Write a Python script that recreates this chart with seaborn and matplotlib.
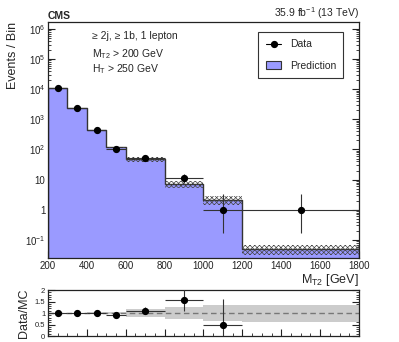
import numpy as np
import pandas as pd
import matplotlib
matplotlib.use("Agg")
import matplotlib.pyplot as plt
import seaborn as sns
from matplotlib.ticker import FixedLocator, FixedFormatter, MultipleLocator, LogLocator, NullFormatter
from matplotlib.lines import Line2D
from matplotlib.patches import Patch

# MT2 bins (GeV)
bin_edges = [200, 300, 400, 500, 600, 800, 1000, 1200, 1800]
bin_centers = [250, 350, 450, 550, 700, 900, 1100, 1500]

# prediction per bin and its relative uncertainty
prediction = [10700, 2350, 445, 117, 47, 7.1, 2.15, 0.05]
pred_rel_unc = [0.02, 0.02, 0.03, 0.05, 0.18, 0.27, 0.33, 0.37]

# observed data with asymmetric errors
data = [11000, 2400, 440, 105, 52, 11, 1, 1]
data_err_lo = [105, 49, 21, 10.2, 7.2, 3.3, 0.83, 0.83]
data_err_hi = [105, 49, 21, 11.3, 8.2, 4.4, 2.3, 2.3]

# data / MC ratio (last bin is off scale, not drawn)
ratio_x = [250, 350, 450, 550, 700, 900, 1100]
ratio = [1.02, 1.02, 0.99, 0.90, 1.10, 1.55, 0.46]
ratio_err_lo = [0.02, 0.03, 0.05, 0.09, 0.15, 0.47, 0.46]
ratio_err_hi = [0.02, 0.03, 0.05, 0.10, 0.17, 0.62, 1.15]

sns.set_theme(style="ticks")
plt.rcParams["font.family"] = ["Liberation Sans", "DejaVu Sans"]
plt.rcParams["mathtext.fontset"] = "custom"
plt.rcParams["mathtext.rm"] = "Liberation Sans"
plt.rcParams["mathtext.it"] = "Liberation Sans"
plt.rcParams["axes.edgecolor"] = "#222222"
plt.rcParams["axes.linewidth"] = 0.9
plt.rcParams["hatch.linewidth"] = 0.5

fig = plt.figure(figsize=(3.99, 3.42), dpi=100)
ax = fig.add_axes([0.1203, 0.2456, 0.7794, 0.6901])
rx = fig.add_axes([0.1203, 0.0175, 0.7794, 0.1345])

edges = np.array(bin_edges, dtype=float)
widths = np.diff(edges)
pred = np.array(prediction)
rel = np.array(pred_rel_unc)
pred_color = "#9a9aff"

df = pd.DataFrame({"mt2": bin_centers, "pred": prediction})
sns.histplot(data=df, x="mt2", weights="pred", bins=bin_edges, element="step",
             fill=True, color=pred_color, alpha=1.0, edgecolor="#333333",
             linewidth=1.0, ax=ax)

# hatched uncertainty band
ax.bar(bin_centers, pred * 2 * rel, bottom=pred * (1 - rel), width=widths,
       fill=False, hatch="xxxxxxx", edgecolor="#444444", linewidth=0)

ax.errorbar(bin_centers, data, xerr=widths / 2, yerr=[data_err_lo, data_err_hi],
            fmt="o", color="black", ms=4.2, elinewidth=0.8, ecolor="#333333",
            capsize=0, zorder=5)

ax.set_yscale("log")
ax.set_xlim(200, 1800)
ax.set_ylim(0.025, 1.7e6)
ax.yaxis.set_major_locator(FixedLocator([0.1, 1, 10, 1e2, 1e3, 1e4, 1e5, 1e6]))
ax.yaxis.set_major_formatter(FixedFormatter(
    ["$10^{-1}$", "1", "10", "$10^{2}$", "$10^{3}$", "$10^{4}$", "$10^{5}$", "$10^{6}$"]))
ax.yaxis.set_minor_locator(LogLocator(base=10, subs=np.arange(2, 10), numticks=20))
ax.yaxis.set_minor_formatter(NullFormatter())
ax.xaxis.set_major_locator(MultipleLocator(200))
ax.xaxis.set_minor_locator(MultipleLocator(50))
for a in (ax, rx):
    a.tick_params(which="both", direction="in", right=True, top=False,
                  labelsize=7, colors="#222222", pad=2)
    a.tick_params(which="major", length=5, width=0.8)
    a.tick_params(which="minor", length=2.5, width=0.6)
ax.set_xlabel("M$_{T2}$ [GeV]", fontsize=9, loc="right", labelpad=1)
ax.set_ylabel("Events / Bin", fontsize=9, loc="top", labelpad=4)

ax.text(0, 1.004, "CMS", transform=ax.transAxes, fontsize=7.5,
        fontweight="bold", ha="left", va="bottom")
ax.text(1, 1.004, "35.9 fb$^{-1}$ (13 TeV)", transform=ax.transAxes,
        fontsize=7.5, ha="right", va="bottom")
ax.text(0.14, 0.94, "\u2265 2j, \u2265 1b, 1 lepton", transform=ax.transAxes,
        fontsize=7.5, va="center")
ax.text(0.14, 0.865, "M$_{T2}$ > 200 GeV", transform=ax.transAxes,
        fontsize=7.5, va="center")
ax.text(0.14, 0.80, "H$_{T}$ > 250 GeV", transform=ax.transAxes,
        fontsize=7.5, va="center")

handles = [Line2D([0], [0], color="black", marker="o", ms=4.2, lw=0.8),
           Patch(facecolor=pred_color, edgecolor="#333333", linewidth=0.8)]
leg = ax.legend(handles, ["Data", "Prediction"], loc="upper right",
                bbox_to_anchor=(0.966, 0.98), fontsize=7.5, frameon=True,
                fancybox=False, edgecolor="#333333", framealpha=1,
                handlelength=1.5, borderpad=0.7, labelspacing=1.1)
leg.get_frame().set_linewidth(0.8)

# ratio panel
rx.bar(bin_centers, 2 * rel, bottom=1 - rel, width=widths, color="#cccccc",
       linewidth=0)
rx.axhline(1, color="#777777", lw=1.0, ls=(0, (4, 2.5)))
rx.errorbar(ratio_x, ratio, xerr=widths[:7] / 2, yerr=[ratio_err_lo, ratio_err_hi],
            fmt="o", color="black", ms=4.2, elinewidth=0.8, ecolor="#333333",
            capsize=0, zorder=5)
rx.set_xlim(200, 1800)
rx.set_ylim(0, 2)
rx.yaxis.set_major_locator(FixedLocator([0, 0.5, 1, 1.5, 2]))
rx.yaxis.set_major_formatter(FixedFormatter(["0", "0.5", "1", "1.5", "2"]))
rx.yaxis.set_minor_locator(MultipleLocator(0.1))
rx.xaxis.set_major_locator(MultipleLocator(200))
rx.xaxis.set_minor_locator(MultipleLocator(50))
rx.tick_params(axis="y", labelsize=5.5)
rx.tick_params(axis="x", labelbottom=False)
rx.set_ylabel("Data/MC", fontsize=9, labelpad=3)

fig.savefig("out.png", dpi=100)
